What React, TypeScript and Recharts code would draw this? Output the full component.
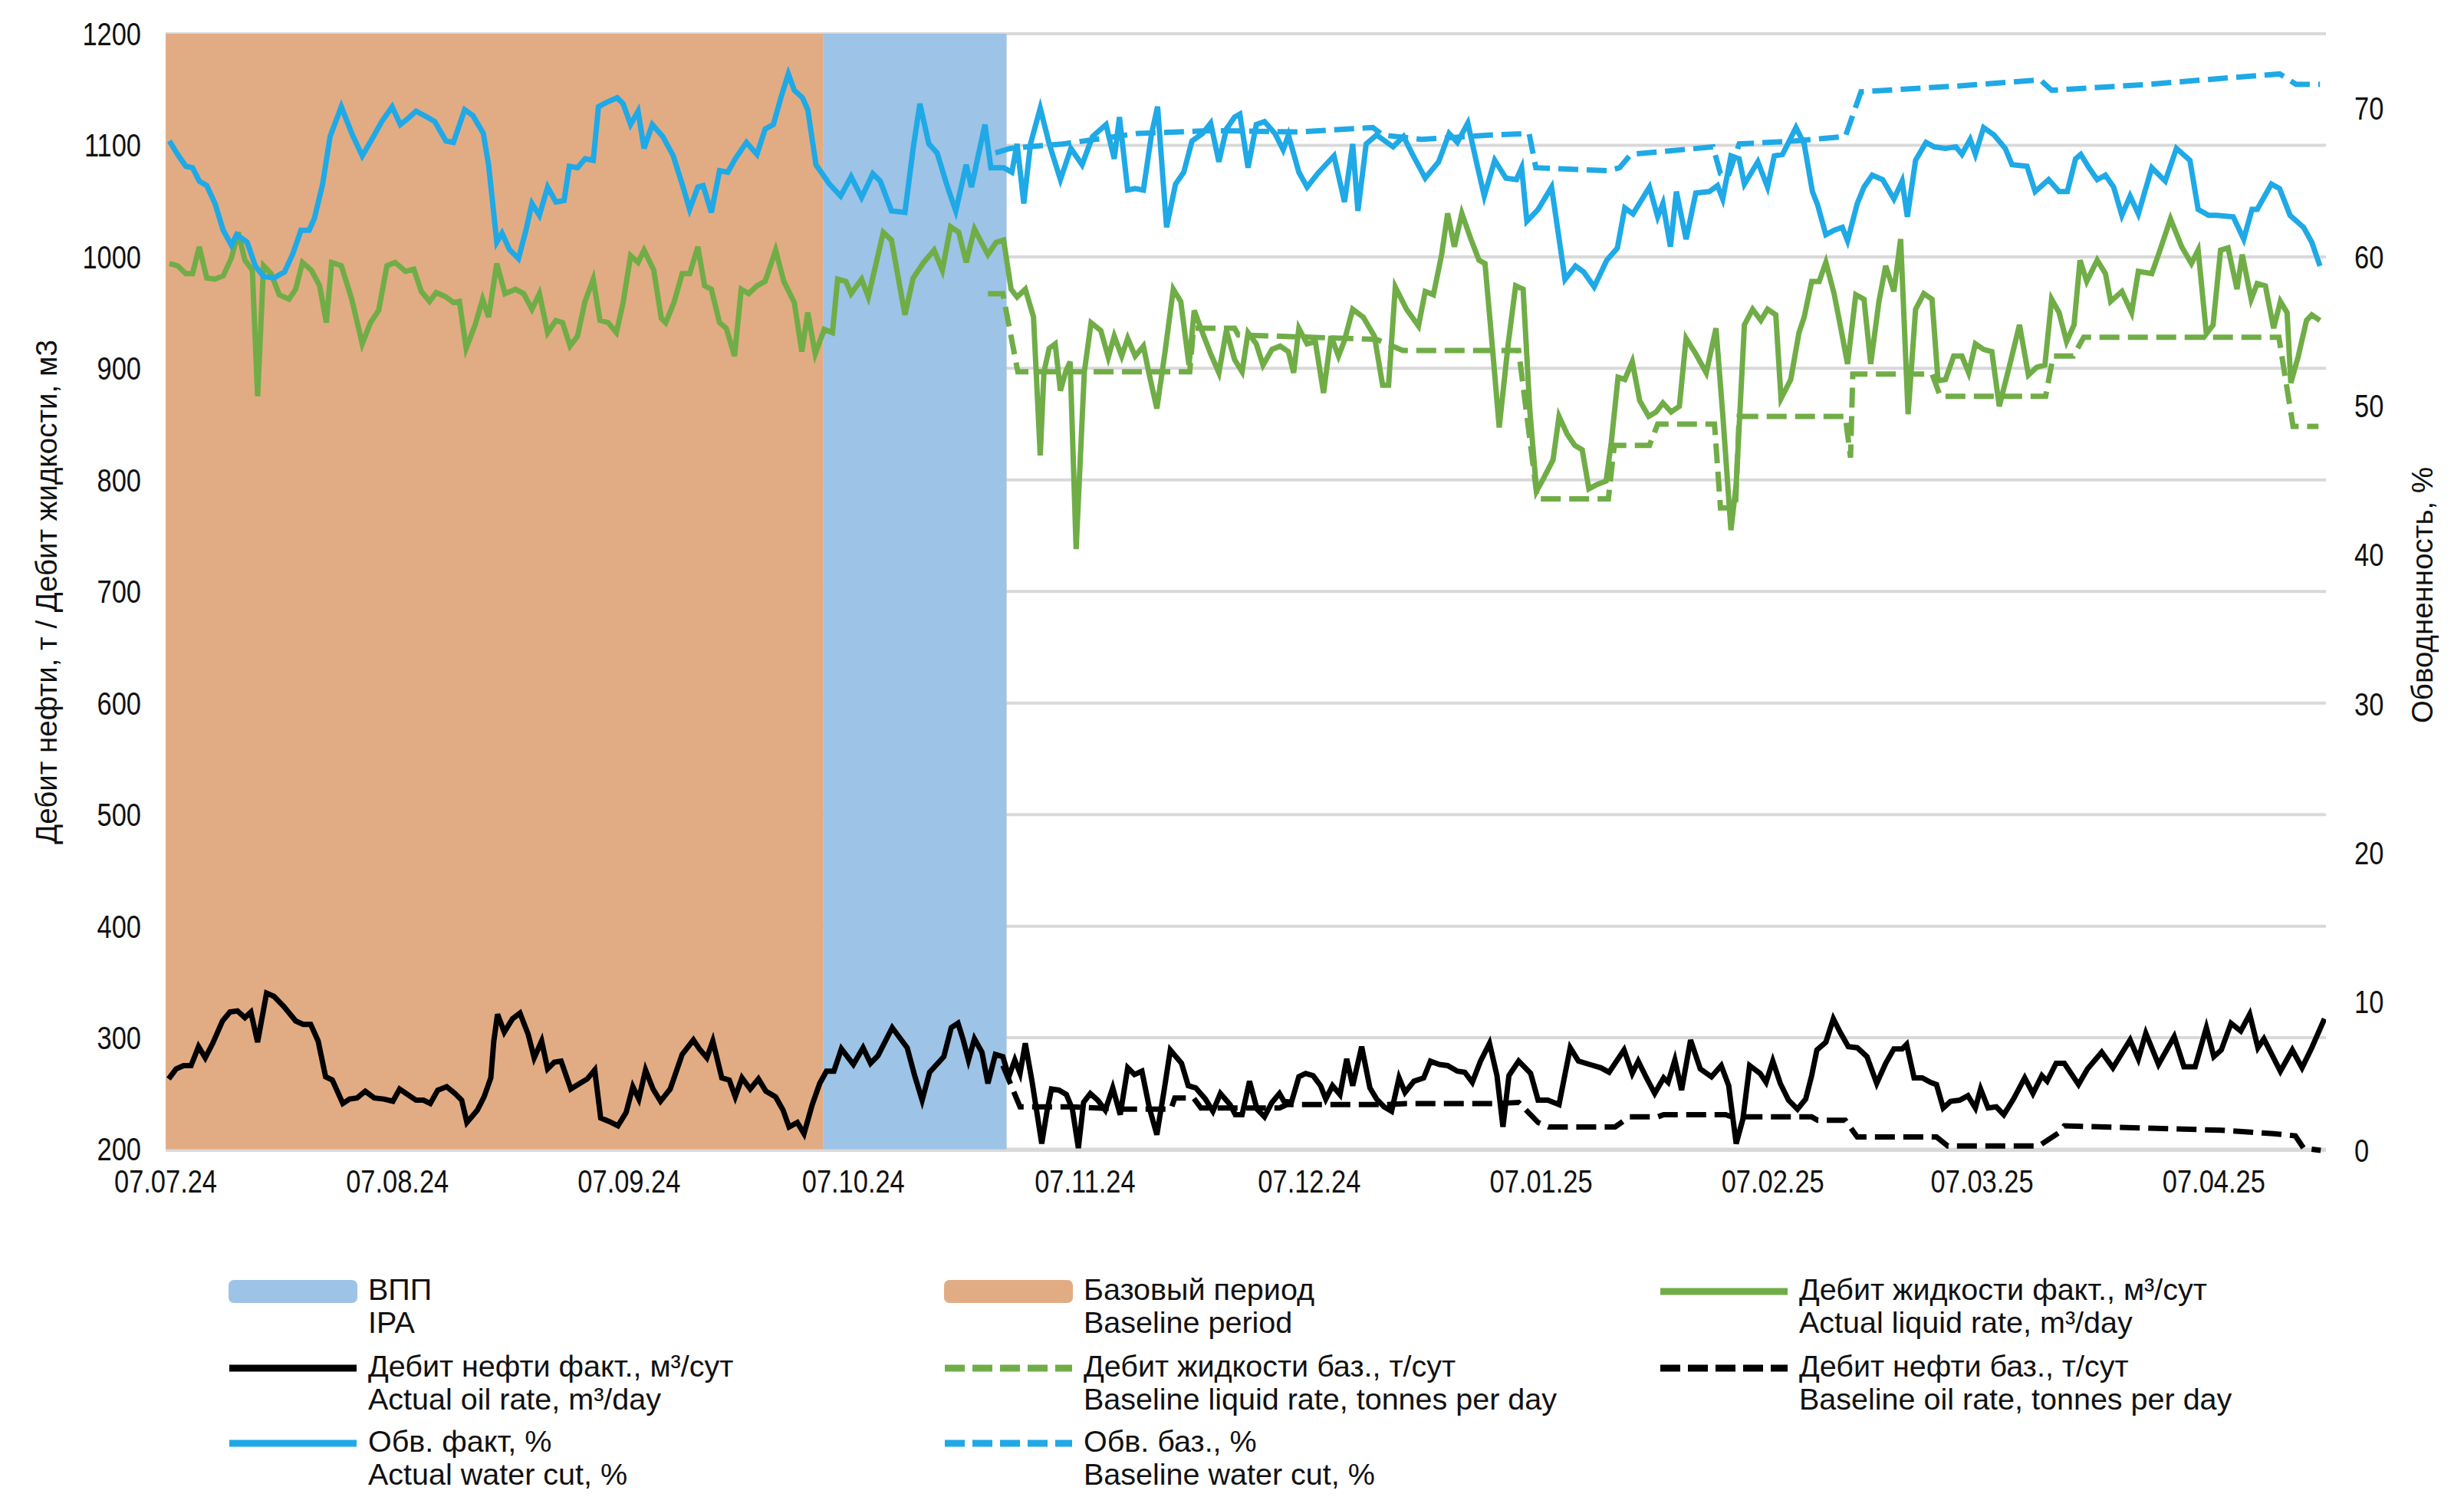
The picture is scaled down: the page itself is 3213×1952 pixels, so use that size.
import React from 'react'
import { ComposedChart, Line, XAxis, YAxis, CartesianGrid, ReferenceArea } from 'recharts'

const FONT = "'Liberation Sans', Arial, sans-serif"
// tick labels in the original are narrow; Liberation Sans is squeezed to match
const SQUEEZE = 0.82

const GREEN = '#70ad47'
const BLUE = '#1fa9e6'
const BLACK = '#000000'
const ORANGE_FILL = '#e1ac84'
const BLUE_FILL = '#9dc3e6'

// x axis: days counted from 07.07.24
const dateTicks = [0, 31, 62, 92, 123, 153, 184, 215, 243, 274]
const dateLabels = ['07.07.24', '07.08.24', '07.09.24', '07.10.24', '07.11.24', '07.12.24', '07.01.25', '07.02.25', '07.03.25', '07.04.25']
const leftTicks = [200, 300, 400, 500, 600, 700, 800, 900, 1000, 1100, 1200]
const rightTicks = [0, 10, 20, 30, 40, 50, 60, 70]

// shaded periods, in days
const baselinePeriod = [0, 88]
const ipaPeriod = [88, 112.5]

type Pt = [number, number]

// Дебит жидкости факт., м3/сут  [day, value]
const liquidFact: Pt[] = [
  [0.5, 994], [1.6, 992], [2.7, 985], [3.6, 985], [4.5, 1009], [5.5, 981], [6.6, 980], [7.7, 983], [8.8, 999], [9.7, 1022],
  [10.6, 997], [11.6, 988], [12.3, 875], [13.1, 992], [14.1, 985], [15.2, 966], [16.5, 962], [17.4, 971], [18.3, 995], [19.5, 988],
  [20.6, 974], [21.5, 941], [22.2, 995], [23.5, 992], [24.9, 962], [26.3, 922], [27.4, 941], [28.5, 952], [29.6, 992], [30.7, 995],
  [32.1, 987], [33.2, 989], [34.2, 969], [35.3, 960], [36.2, 968], [37.5, 964], [38.5, 959], [39.3, 960], [40.2, 918], [41.4, 939],
  [42.4, 962], [43.2, 946], [44.3, 994], [45.4, 967], [46.8, 971], [47.9, 967], [49, 953], [50, 967], [51.1, 932], [52.2, 943],
  [53.1, 941], [54.1, 920], [55.1, 929], [56.1, 960], [57.2, 980], [58.1, 943], [59.2, 941], [60.3, 932], [61.2, 959], [62.2, 1001],
  [63.2, 995], [64, 1006], [65.3, 988], [66.3, 945], [66.9, 941], [68, 959], [69.1, 985], [70.1, 985], [71.2, 1009], [72.1, 974],
  [73, 971], [74.1, 941], [75, 936], [76.1, 911], [77, 971], [78, 967], [79.1, 974], [80.2, 978], [81.6, 1006], [82.7, 978],
  [84.1, 959], [85.1, 915], [85.9, 950], [86.9, 913], [88.1, 935], [89.2, 932], [89.9, 980], [91, 978], [91.7, 967], [93.1, 980],
  [94, 964], [96, 1022], [97.1, 1015], [98.9, 948], [100, 981], [101.4, 995], [102.8, 1006], [103.9, 988], [105, 1027], [106.1, 1022],
  [107.1, 995], [108.2, 1025], [108.9, 1016], [110, 1002], [111.1, 1013], [112.1, 1015], [113.1, 971], [113.9, 964], [115, 971], [116.1, 946],
  [117, 822], [117.5, 897], [118.2, 918], [119, 922], [119.7, 880], [120.4, 897], [121, 906], [121.8, 738], [122.9, 897], [123.8, 941],
  [125.1, 934], [126.1, 910], [126.9, 929], [127.9, 911], [128.7, 927], [129.7, 911], [130.8, 920], [131.5, 897], [132.6, 864], [133.7, 915],
  [134.8, 971], [135.8, 960], [136.9, 903], [137.6, 952], [138.7, 932], [139.8, 913], [140.9, 896], [141.9, 934], [143, 908], [144, 897],
  [144.8, 932], [145.9, 922], [146.8, 903], [148, 917], [149.1, 920], [150.2, 915], [150.9, 896], [151.6, 936], [152.7, 922], [153.8, 924],
  [154.9, 878], [155.9, 929], [156.9, 911], [157.7, 925], [158.8, 953], [160.2, 946], [161.7, 929], [162.8, 885], [163.6, 885], [164.5, 973],
  [166, 953], [167.6, 938], [168.5, 969], [169.6, 966], [170.7, 1002], [171.5, 1039], [172.4, 1009], [173.4, 1039], [174.6, 1016], [175.7, 997],
  [176.5, 994], [177.5, 918], [178.4, 847], [179.6, 922], [180.6, 974], [181.6, 971], [182.5, 862], [183.4, 790], [184.3, 801], [185.6, 818],
  [186.4, 857], [187.5, 841], [188.5, 831], [189.5, 827], [190.4, 792], [191.5, 796], [192.7, 799], [193.4, 834], [194.3, 892], [195.2, 890],
  [196.2, 906], [197.2, 871], [198.4, 857], [199.4, 861], [200.3, 869], [201.4, 861], [202.5, 866], [203.4, 927], [204.7, 913], [206.1, 896],
  [207.4, 936], [208.3, 859], [209.4, 755], [210.1, 796], [211.2, 939], [212.3, 953], [213.4, 943], [214.3, 953], [215.4, 948], [216.1, 873],
  [217.4, 890], [218.5, 932], [219.2, 946], [220.2, 978], [221.2, 978], [222.1, 995], [223.2, 967], [224.1, 936], [225, 904], [226.1, 966],
  [227.2, 962], [228.1, 904], [229.2, 960], [230.1, 992], [231.2, 969], [232.1, 1016], [233.1, 859], [234.1, 953], [235.2, 967], [236.3, 962],
  [237.1, 889], [238.1, 890], [239.2, 911], [240.3, 911], [241.2, 896], [242.1, 922], [243.2, 917], [244.3, 915], [245.3, 866], [246.8, 906],
  [248, 939], [249.2, 894], [250.3, 901], [251.4, 903], [252.3, 962], [253.3, 950], [254.3, 924], [255.3, 939], [256.1, 997], [257, 978],
  [258.4, 997], [259.5, 985], [260.2, 960], [261.7, 969], [263, 950], [263.9, 987], [265.7, 985], [266.8, 1006], [268.2, 1034], [269.7, 1009],
  [271, 994], [271.9, 1006], [273, 931], [273.9, 939], [274.9, 1006], [275.9, 1008], [277.1, 971], [277.8, 1002], [279, 962], [279.8, 976],
  [280.9, 974], [282, 936], [282.9, 960], [283.8, 950], [284.3, 887], [285.3, 911], [286.4, 943], [287.1, 948], [288.2, 943],
]

// Дебит жидкости баз., т/сут
const liquidBase: Pt[] = [
  [110, 967], [112, 967], [114, 897], [137, 897], [137.5, 936], [143, 936], [143.5, 930], [162, 926], [165.5, 916], [181, 916],
  [183.5, 783], [193, 783], [193.8, 831], [198.5, 831], [199.6, 850], [207.2, 850], [208, 775], [210, 775], [210.5, 857], [224.7, 857],
  [225.4, 820], [225.7, 895], [236.3, 895], [237.4, 875], [251.5, 875], [252.5, 911], [255.2, 911], [256.6, 928], [282.7, 928], [284.6, 848],
  [288, 848],
]

// Дебит нефти факт., м3/сут
const oilFact: Pt[] = [
  [0.4, 263], [1.4, 272], [2.4, 275], [3.4, 275], [4.4, 292], [5.3, 282], [6.3, 295], [7.6, 315], [8.6, 323], [9.6, 324],
  [10.6, 318], [11.4, 323], [12.3, 296], [13.5, 340], [14.5, 337], [15.8, 328], [17.4, 315], [18.4, 312], [19.4, 312], [20.4, 297],
  [21.4, 265], [22.3, 262], [23.7, 241], [24.6, 245], [25.6, 246], [26.7, 252], [27.9, 246], [29.2, 245], [30.4, 243], [31.3, 254],
  [32.4, 249], [33.5, 244], [34.5, 244], [35.4, 241], [36.4, 253], [37.6, 256], [38.7, 250], [39.6, 244], [40.3, 224], [41.7, 235],
  [42.6, 247], [43.5, 264], [43.9, 297], [44.4, 321], [45.3, 305], [46.4, 317], [47.4, 322], [48.5, 303], [49.3, 282], [50.3, 297],
  [51.1, 272], [52, 278], [52.9, 279], [54.2, 254], [55.4, 259], [56.4, 263], [57.4, 271], [58.2, 228], [59.3, 225], [60.5, 221],
  [61.6, 233], [62.5, 256], [63.3, 245], [64.2, 271], [65.2, 254], [66.2, 243], [67.5, 254], [69.1, 285], [70.6, 298], [71.4, 290],
  [72.4, 282], [73.2, 297], [74.4, 264], [75.4, 262], [76.2, 247], [77.1, 264], [78.2, 254], [79.3, 263], [80.3, 252], [81.6, 247],
  [82.6, 235], [83.4, 220], [84.5, 224], [85.4, 214], [86.5, 240], [87.5, 259], [88.4, 270], [89.4, 270], [90.4, 290], [92, 276],
  [93.3, 291], [94.3, 277], [95.3, 284], [97.2, 309], [99.2, 291], [100.2, 266], [101.2, 244], [102.2, 269], [104.1, 283], [105.1, 309],
  [106, 313], [106.7, 298], [107.4, 280], [108.2, 299], [109.2, 287], [110, 259], [111, 285], [112, 283], [112.8, 265], [113.6, 280],
  [114.3, 268], [115, 295], [115.9, 261], [116.6, 231], [117.2, 205], [117.9, 234], [118.5, 254], [119.5, 253], [120.5, 249], [121.3, 236],
  [122.1, 201], [122.8, 242], [123.7, 250], [124.7, 244], [125.7, 235], [126.7, 255], [127.7, 231], [128.7, 273], [129.6, 267], [130.6, 270],
  [131.6, 237], [132.6, 213], [133.6, 254], [134.4, 289], [135.9, 277], [136.8, 257], [137.8, 255], [139.1, 245], [140.1, 234], [141.1, 250],
  [142.4, 240], [143.1, 231], [144, 231], [145, 261], [146, 236], [147, 229], [148, 242], [149, 250], [149.6, 243], [150.6, 242],
  [151.6, 265], [152.5, 268], [153.5, 266], [154.5, 257], [155.2, 245], [156.1, 257], [157.1, 249], [158, 281], [158.8, 257], [160, 292],
  [161.1, 255], [162, 245], [163, 238], [164, 234], [165, 264], [165.8, 251], [167, 261], [168.3, 264], [169.2, 279], [170.4, 276],
  [171.5, 275], [172.8, 270], [173.8, 269], [174.8, 260], [175.9, 279], [177.1, 295], [178.1, 266], [178.9, 220], [179.7, 266], [181, 279],
  [182.6, 268], [183.6, 244], [184.9, 244], [186.4, 240], [187.9, 291], [189, 279], [190.5, 276], [192, 273], [193.1, 269], [195.1, 289],
  [196.2, 268], [197, 279], [198.1, 264], [199.2, 250], [200.4, 264], [201, 260], [201.9, 280], [202.8, 253], [204, 298], [205.3, 272],
  [206.8, 265], [208.1, 275], [209.1, 257], [210.1, 205], [211, 227], [211.9, 275], [213.3, 268], [214.1, 260], [215, 279], [216, 259],
  [217.1, 244], [218.3, 236], [219.4, 245], [220.2, 266], [220.9, 289], [222.1, 296], [223.1, 317], [224, 305], [225.1, 292], [226.3, 291],
  [227.6, 283], [228.9, 259], [230.1, 277], [231.2, 290], [232.3, 290], [232.9, 294], [233.9, 264], [235, 264], [236.1, 260], [236.9, 258],
  [237.8, 237], [238.8, 243], [240, 244], [241.1, 248], [242.1, 237], [242.8, 254], [243.8, 237], [244.9, 238], [245.9, 231], [247.2, 245],
  [248.7, 264], [249.8, 250], [251, 266], [251.7, 261], [252.9, 277], [254, 277], [255.9, 258], [257.1, 272], [259, 287], [260.5, 273],
  [262.8, 298], [263.9, 281], [264.9, 304], [266.6, 276], [268.7, 301], [270, 274], [271.5, 274], [273, 309], [274, 283], [275, 289],
  [276.3, 313], [277.6, 306], [278.8, 321], [279.9, 291], [280.7, 299], [282.9, 270], [284.5, 289], [285.8, 273], [287.1, 291], [288.8, 317],
]

// Дебит нефти баз., т/сут
const oilBase: Pt[] = [
  [112, 275], [114.3, 238], [121, 238], [128, 236], [134.5, 236], [135, 246], [137.5, 246], [138.5, 237], [149, 237], [150, 240],
  [163, 240], [166, 241], [178, 241], [181, 242], [183.6, 224], [185, 220], [193.9, 220], [195.8, 229], [199.6, 229], [200.4, 231],
  [208.7, 231], [209.5, 229], [220.2, 229], [221, 226], [224.7, 226], [226.3, 211], [236.9, 211], [238.4, 203], [250.6, 203], [253.3, 215],
  [254, 221], [265, 219], [275, 217], [282, 214], [284.9, 212], [286, 201], [288.3, 199],
]

// Обв. факт, %
const waterCutFact: Pt[] = [
  [0.5, 67.8], [1.6, 66.9], [2.7, 66.1], [3.6, 66.0], [4.5, 65.1], [5.5, 64.8], [6.6, 63.6], [7.7, 61.8], [8.8, 60.8], [9.5, 61.5],
  [10.9, 61.0], [12, 59.4], [13.1, 58.7], [14.5, 58.6], [15.9, 59.0], [17, 60.2], [18.1, 61.8], [19.2, 61.8], [19.9, 62.6], [21, 64.9],
  [22, 68.1], [23.5, 70.1], [24.9, 68.3], [26.3, 66.8], [27.8, 68.1], [28.9, 69.1], [30.3, 70.1], [31.4, 68.9], [32.4, 69.3], [33.5, 69.8],
  [35, 69.4], [36, 69.1], [37.5, 67.8], [38.5, 67.7], [40, 69.9], [41.1, 69.5], [42.5, 68.3], [43.2, 66.2], [44.3, 61.0], [45, 61.6],
  [46, 60.5], [47.2, 59.9], [48.2, 61.8], [49, 63.6], [50, 62.8], [51.1, 64.7], [52.2, 63.7], [53.3, 63.8], [54, 66.1], [55.1, 66.0],
  [56.1, 66.6], [57.2, 66.5], [57.9, 70.1], [59, 70.4], [60.4, 70.7], [61.2, 70.3], [62.2, 68.9], [63.2, 69.8], [64, 67.3], [65.1, 68.9],
  [66.5, 68.1], [67.9, 66.8], [69.1, 64.9], [70.1, 63.2], [71.2, 64.7], [71.9, 64.8], [73, 63.0], [74.1, 65.8], [75.2, 65.7], [76.2, 66.6],
  [77.7, 67.7], [79.1, 66.9], [80.2, 68.6], [81.3, 68.9], [82.3, 70.7], [83.3, 72.3], [84.1, 71.2], [85.2, 70.7], [85.9, 69.9], [87, 66.2],
  [88.8, 64.9], [90.3, 64.1], [91.7, 65.4], [93.1, 64.0], [94.6, 65.6], [95.6, 65.1], [97.1, 63.1], [98.9, 63.0], [100, 67.3], [100.9, 70.3],
  [102.1, 67.6], [103.2, 67.0], [104.6, 64.7], [105.7, 63.1], [107.1, 66.2], [107.8, 64.7], [109.6, 68.9], [110.4, 66.0], [112.1, 66.0], [113.2, 65.7],
  [113.9, 67.6], [114.8, 63.6], [115.7, 67.6], [117, 70.0], [118.2, 67.6], [119.7, 65.2], [121.1, 67.3], [122.6, 66.2], [124, 68.1], [125.8, 68.9],
  [126.9, 66.6], [127.6, 69.4], [128.7, 64.5], [129.7, 64.6], [130.8, 64.5], [131.9, 68.3], [132.7, 70.1], [133.9, 62.0], [135.1, 64.9], [136.2, 65.7],
  [137.3, 67.8], [138.7, 68.3], [139.8, 69.0], [140.9, 66.4], [141.9, 68.6], [143, 69.4], [143.7, 69.6], [144.8, 66.0], [145.9, 68.9], [147, 69.1],
  [148.4, 68.3], [149.5, 67.2], [150.2, 68.2], [151.6, 65.7], [152.7, 64.7], [154.1, 65.6], [156.3, 66.8], [157.7, 63.7], [158.8, 67.6], [159.5, 63.1],
  [160.6, 67.6], [162, 68.2], [164.2, 67.4], [165.6, 68.1], [166.7, 67.0], [168.5, 65.3], [170.3, 66.4], [171.7, 68.3], [172.8, 67.7], [174.2, 69.0],
  [175.3, 66.5], [176.4, 64.1], [177.8, 66.5], [179.3, 65.3], [180.7, 65.2], [181.4, 66.0], [182.1, 62.4], [183.6, 63.2], [185.4, 64.7], [187.2, 58.5],
  [188.6, 59.4], [189.7, 59.0], [191.1, 58.0], [192.8, 59.8], [194.2, 60.6], [195.2, 63.3], [196.3, 62.9], [198.5, 64.7], [199.6, 62.7], [200.3, 63.6],
  [201.3, 60.7], [202.1, 64.4], [203.4, 61.2], [204.7, 64.3], [206.5, 64.4], [207.6, 64.8], [208.3, 63.9], [209.4, 66.8], [210.5, 66.6], [211.2, 64.9],
  [213, 66.4], [214.3, 64.7], [215.2, 66.8], [216.3, 66.9], [218.1, 68.7], [219.2, 67.6], [220.3, 64.4], [221, 63.5], [222.1, 61.5], [223.2, 61.8],
  [224.3, 62.0], [225, 61.1], [226.3, 63.6], [227.2, 64.7], [228.3, 65.5], [229.7, 65.2], [231.2, 63.9], [232.3, 65.1], [233, 62.7], [234.1, 66.5],
  [235.5, 67.7], [236.6, 67.4], [238.1, 67.3], [239.5, 67.4], [240.3, 66.9], [241.4, 67.9], [242.1, 66.9], [243.2, 68.7], [244.6, 68.2], [246.1, 67.3],
  [247, 66.2], [249, 66.1], [250.1, 64.4], [251.9, 65.2], [253.3, 64.4], [254.4, 64.4], [255.5, 66.6], [256.2, 66.9], [257.3, 66.0], [258.4, 65.2],
  [259.5, 65.5], [260.6, 64.7], [261.7, 62.8], [262.8, 64.1], [263.9, 62.9], [265.7, 66.0], [267.5, 65.1], [269, 67.3], [270.8, 66.5], [271.9, 63.2],
  [273.3, 62.8], [274.4, 62.8], [276.6, 62.7], [278, 61.2], [279.1, 63.2], [279.8, 63.2], [281.7, 64.9], [282.8, 64.6], [284.2, 62.8], [286, 62.0],
  [287.1, 61.0], [288.2, 59.4],
]

// Обв. баз., %
const waterCutBase: Pt[] = [
  [111, 67.0], [113, 67.3], [120, 67.6], [130, 68.3], [140, 68.5], [151.6, 68.4], [161.5, 68.7], [162.8, 68.2], [168, 67.9], [177.3, 68.2],
  [182.4, 68.3], [183.3, 66.0], [193, 65.8], [194.5, 66.0], [196, 66.9], [207, 67.4], [208, 65.6], [209, 65.4], [210.5, 67.6], [218, 67.8],
  [224.7, 68.1], [226.8, 71.1], [240, 71.5], [250.8, 71.9], [252.3, 71.2], [265.3, 71.6], [275, 72.0], [282.8, 72.3], [285, 71.6], [288.2, 71.6],
]

const rows = (pts: Pt[]) => pts.map(([d, v]) => ({ d, v }))

type LegendItem = { ru: string; en: string; kind: 'area' | 'line'; color: string; dashed?: boolean }

const legendItems: LegendItem[] = [
  { ru: 'ВПП', en: 'IPA', kind: 'area', color: BLUE_FILL },
  { ru: 'Базовый период', en: 'Baseline period', kind: 'area', color: ORANGE_FILL },
  { ru: 'Дебит жидкости факт., м³/сут', en: 'Actual liquid rate, m³/day', kind: 'line', color: GREEN },
  { ru: 'Дебит нефти факт., м³/сут', en: 'Actual oil rate, m³/day', kind: 'line', color: BLACK },
  { ru: 'Дебит жидкости баз., т/сут', en: 'Baseline liquid rate, tonnes per day', kind: 'line', color: GREEN, dashed: true },
  { ru: 'Дебит нефти баз., т/сут', en: 'Baseline oil rate, tonnes per day', kind: 'line', color: BLACK, dashed: true },
  { ru: 'Обв. факт, %', en: 'Actual water cut, %', kind: 'line', color: BLUE },
  { ru: 'Обв. баз., %', en: 'Baseline water cut, %', kind: 'line', color: BLUE, dashed: true },
]

const legendCols = [297, 1230, 2163]
const legendRows = [1660, 1760, 1858]

// tick label drawn with a horizontal squeeze around its anchor point
function NarrowTick(props: any) {
  const { x, y, payload, anchor, dy, format } = props
  const label = format ? format(payload.value) : String(payload.value)
  return (
    <g transform={`translate(${x},${y}) scale(${SQUEEZE},1)`}>
      <text x={0} y={0} dy={dy} textAnchor={anchor} fontSize={42} fill="#111" fontFamily={FONT}>
        {label}
      </text>
    </g>
  )
}

const formatDate = (t: number) => dateLabels[dateTicks.indexOf(t)]

function LegendIcon({ item }: { item: LegendItem }) {
  return (
    <svg width={170} height={40} style={{ display: 'block' }}>
      {item.kind === 'area' ? (
        <rect x={1} y={5} width={168} height={30} rx={7} fill={item.color} />
      ) : (
        <line
          x1={2}
          y1={20}
          x2={168}
          y2={20}
          stroke={item.color}
          strokeWidth={9}
          strokeDasharray={item.dashed ? '26 10' : undefined}
        />
      )}
    </svg>
  )
}

export default function App() {
  const lineProps = { dataKey: 'v', dot: false, activeDot: false, strokeWidth: 7, isAnimationActive: false, type: 'linear' as const }

  return (
    <div
      style={{
        position: 'absolute',
        left: 0,
        top: 0,
        width: 3213,
        height: 1952,
        background: '#fff',
        overflow: 'hidden',
        fontFamily: FONT,
        color: '#111',
      }}
    >
      <ComposedChart width={3213} height={1620} margin={{ top: 44, right: 0, bottom: 0, left: 0 }}>
        <CartesianGrid vertical={false} yAxisId="left" stroke="#d9d9d9" strokeWidth={4} />
        <XAxis
          type="number"
          dataKey="d"
          domain={[0, 289]}
          ticks={dateTicks}
          interval={0}
          allowDataOverflow
          axisLine={false}
          tickLine={false}
          tickSize={0}
          tickMargin={25}
          height={120}
          tick={(p: any) => <NarrowTick {...p} anchor="middle" dy="0.71em" format={formatDate} />}
        />
        <YAxis
          yAxisId="left"
          domain={[200, 1200]}
          ticks={leftTicks}
          interval={0}
          width={216}
          axisLine={false}
          tickLine={false}
          tickSize={0}
          tickMargin={32}
          tick={(p: any) => <NarrowTick {...p} anchor="end" dy="0.355em" />}
        />
        <YAxis
          yAxisId="right"
          orientation="right"
          domain={[0, 75]}
          ticks={rightTicks}
          interval={0}
          width={180}
          axisLine={false}
          tickLine={false}
          tickSize={0}
          tickMargin={37}
          tick={(p: any) => <NarrowTick {...p} anchor="start" dy="0.355em" />}
        />
        <ReferenceArea yAxisId="left" x1={baselinePeriod[0]} x2={baselinePeriod[1]} y1={200} y2={1200} fill={ORANGE_FILL} fillOpacity={1} stroke="none" />
        <ReferenceArea yAxisId="left" x1={ipaPeriod[0]} x2={ipaPeriod[1]} y1={200} y2={1200} fill={BLUE_FILL} fillOpacity={1} stroke="none" />

        <Line {...lineProps} data={rows(liquidBase)} yAxisId="left" stroke={GREEN} strokeDasharray="26 11" />
        <Line {...lineProps} data={rows(oilBase)} yAxisId="left" stroke={BLACK} strokeDasharray="26 11" />
        <Line {...lineProps} data={rows(waterCutBase)} yAxisId="right" stroke={BLUE} strokeDasharray="26 11" />
        <Line {...lineProps} data={rows(liquidFact)} yAxisId="left" stroke={GREEN} />
        <Line {...lineProps} data={rows(oilFact)} yAxisId="left" stroke={BLACK} />
        <Line {...lineProps} data={rows(waterCutFact)} yAxisId="right" stroke={BLUE} />
      </ComposedChart>

      {/* axis titles */}
      <svg width={3213} height={1620} style={{ position: 'absolute', left: 0, top: 0, pointerEvents: 'none' }}>
        <text
          x={0}
          y={0}
          transform="translate(60, 772) rotate(-90)"
          textAnchor="middle"
          dominantBaseline="central"
          fontSize={38.5}
          fill="#111"
          fontFamily={FONT}
        >
          Дебит нефти, т / Дебит жидкости, м3
        </text>
        <text
          x={0}
          y={0}
          transform="translate(3158, 776) rotate(-90)"
          textAnchor="middle"
          dominantBaseline="central"
          fontSize={38.5}
          fill="#111"
          fontFamily={FONT}
        >
          Обводненность, %
        </text>
      </svg>

      {/* legend */}
      {legendItems.map((item, i) => {
        const left = legendCols[i % 3]
        const top = legendRows[Math.floor(i / 3)]
        return (
          <div key={item.ru} style={{ position: 'absolute', left, top }}>
            <div style={{ position: 'absolute', left: 0, top: 4 }}>
              <LegendIcon item={item} />
            </div>
            <div style={{ position: 'absolute', whiteSpace: 'nowrap', left: 183, top: 0, fontSize: 39.5, lineHeight: '43px' }}>
              <div>{item.ru}</div>
              <div>{item.en}</div>
            </div>
          </div>
        )
      })}
    </div>
  )
}
